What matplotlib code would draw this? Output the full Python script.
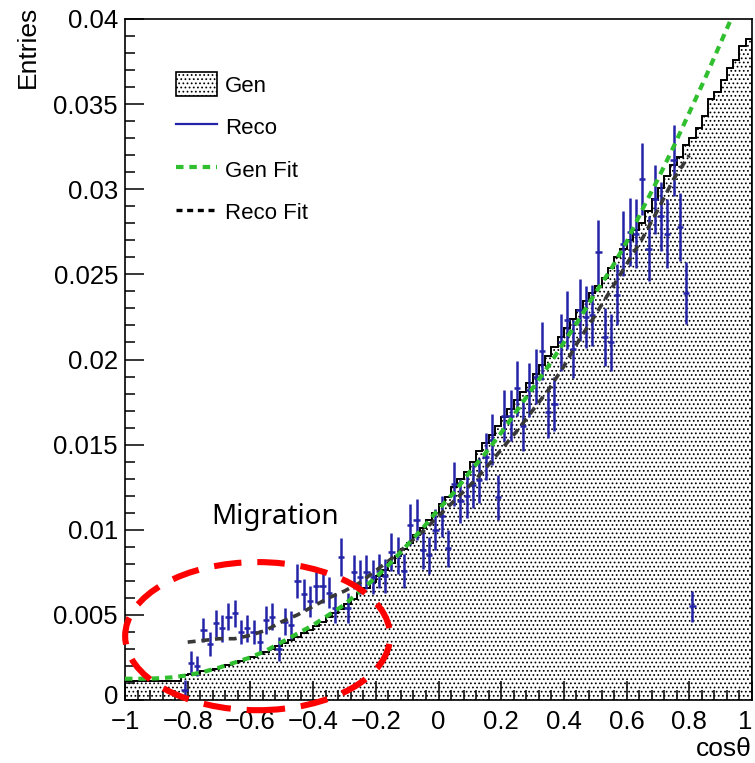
import numpy as np
import matplotlib
matplotlib.use("Agg")
import matplotlib.pyplot as plt
from matplotlib.patches import Ellipse, Patch
from matplotlib.lines import Line2D
from matplotlib.transforms import ScaledTranslation
from matplotlib.ticker import FixedLocator, FixedFormatter, AutoMinorLocator

plt.rcParams['font.family'] = ['Liberation Sans', 'DejaVu Sans']
plt.rcParams['hatch.linewidth'] = 0.75
plt.rcParams['hatch.color'] = 'black'

# Gen histogram, 100 bins on [-1, 1]
gen_edges = np.linspace(-1, 1, 101)
gen_vals = [
    0.00112, 0.00110, 0.00111, 0.00112, 0.00110, 0.00111, 0.00112, 0.00110, 0.00111,
    0.00145, 0.00152, 0.00160, 0.00168, 0.00176, 0.00185, 0.00195, 0.00205, 0.00216,
    0.00228, 0.00241, 0.00254, 0.00268, 0.00283, 0.00300, 0.00318, 0.00336, 0.00354,
    0.00372, 0.00392, 0.00413, 0.00436, 0.00460, 0.00485, 0.00510, 0.00537, 0.00565,
    0.00595, 0.00628, 0.00660, 0.00695, 0.00730, 0.00766, 0.00803, 0.00845, 0.00885,
    0.00925, 0.00968, 0.01010, 0.01055, 0.01100, 0.01150, 0.01195, 0.01250, 0.01300,
    0.01340, 0.01400, 0.01460, 0.01510, 0.01555, 0.01610, 0.01665, 0.01710, 0.01760,
    0.01810, 0.01860, 0.01915, 0.01965, 0.02020, 0.02075, 0.02130, 0.02185, 0.02235,
    0.02290, 0.02345, 0.02390, 0.02430, 0.02480, 0.02540, 0.02600, 0.02650, 0.02700,
    0.02760, 0.02800, 0.02870, 0.02940, 0.03010, 0.03080, 0.03140, 0.03190, 0.03260,
    0.03300, 0.03360, 0.03430, 0.03530, 0.03570, 0.03640, 0.03710, 0.03760, 0.03840,
    0.03880,
]

# Reco points (bins from -0.82 to 0.82)
reco_vals = [
    0.0006, 0.0022, 0.0020, 0.0041, 0.0033, 0.0045, 0.0042, 0.0049, 0.0051, 0.0040,
    0.0042, 0.0040, 0.0034, 0.0047, 0.0049, 0.0030, 0.0046, 0.0044, 0.0070, 0.0062,
    0.0058, 0.0067, 0.0067, 0.0063, 0.0054, 0.0084, 0.0054, 0.0075, 0.0072, 0.0075,
    0.0072, 0.0076, 0.0073, 0.0087, 0.0085, 0.0076, 0.0103, 0.0106, 0.0088, 0.0085,
    0.0100, 0.0108, 0.0089, 0.0127, 0.0117, 0.0120, 0.0126, 0.0129, 0.0143, 0.0153,
    0.0119, 0.0167, 0.0167, 0.0183, 0.0161, 0.0182, 0.0190, 0.0205, 0.0169, 0.0174,
    0.0210, 0.0223, 0.0206, 0.0229, 0.0225, 0.0226, 0.0263, 0.0213, 0.0210, 0.0238,
    0.0268, 0.0275, 0.0274, 0.0306, 0.0265, 0.0294, 0.0284, 0.0274, 0.0317, 0.0278,
    0.0239, 0.0055,
]
reco_errs = [
    0.0006, 0.0007, 0.0006, 0.0007, 0.0007, 0.0008, 0.0008, 0.0008, 0.0008, 0.0007,
    0.0008, 0.0007, 0.0007, 0.0008, 0.0008, 0.0007, 0.0008, 0.0008, 0.0010, 0.0009,
    0.0009, 0.0010, 0.0010, 0.0009, 0.0009, 0.0011, 0.0009, 0.0010, 0.0010, 0.0010,
    0.0010, 0.0010, 0.0010, 0.0011, 0.0011, 0.0010, 0.0012, 0.0012, 0.0011, 0.0011,
    0.0012, 0.0012, 0.0011, 0.0013, 0.0013, 0.0013, 0.0013, 0.0013, 0.0014, 0.0015,
    0.0013, 0.0015, 0.0015, 0.0016, 0.0015, 0.0016, 0.0016, 0.0017, 0.0015, 0.0016,
    0.0017, 0.0017, 0.0017, 0.0018, 0.0018, 0.0018, 0.0019, 0.0017, 0.0017, 0.0018,
    0.0019, 0.0020, 0.0020, 0.0021, 0.0019, 0.0020, 0.0020, 0.0020, 0.0021, 0.0020,
    0.0018, 0.0009,
]

# fit curves
gen_fit_x = [-1.0, -0.95, -0.9, -0.85, -0.8, -0.75, -0.7, -0.65, -0.6, -0.55, -0.5,
             -0.45, -0.4, -0.35, -0.3, -0.25, -0.2, -0.15, -0.1, -0.05, 0.0, 0.05,
             0.1, 0.15, 0.2, 0.25, 0.3, 0.35, 0.4, 0.45, 0.5, 0.55, 0.6, 0.65, 0.7,
             0.75, 0.8, 0.85, 0.9, 0.95]
gen_fit_y = [0.00125, 0.00125, 0.00127, 0.00133, 0.00145, 0.00165, 0.0019, 0.0022,
             0.0025, 0.0029, 0.0034, 0.0039, 0.0044, 0.0050, 0.0056, 0.0064, 0.0072,
             0.0081, 0.0091, 0.0101, 0.0112, 0.0122, 0.0134, 0.0145, 0.0157, 0.0170,
             0.0183, 0.0196, 0.0210, 0.0224, 0.0239, 0.0253, 0.0269, 0.0288, 0.0306,
             0.0325, 0.0345, 0.0365, 0.0386, 0.0407]
reco_fit_x = [-0.8, -0.75, -0.7, -0.65, -0.6, -0.55, -0.5, -0.45, -0.4, -0.35, -0.3,
              -0.25, -0.2, -0.15, -0.1, -0.05, 0.0, 0.05, 0.1, 0.15, 0.2, 0.25, 0.3,
              0.35, 0.4, 0.45, 0.5, 0.55, 0.6, 0.65, 0.7, 0.75, 0.8]
reco_fit_y = [0.0034, 0.0035, 0.0036, 0.0036, 0.0038, 0.0041, 0.0046, 0.0050, 0.0055,
              0.0060, 0.0064, 0.0069, 0.0076, 0.0083, 0.0091, 0.0099, 0.0108, 0.0117,
              0.0126, 0.0136, 0.0147, 0.0158, 0.0170, 0.0182, 0.0196, 0.0212, 0.0226,
              0.0241, 0.0256, 0.0271, 0.0288, 0.0306, 0.0320]

x_ticks = [-1, -0.8, -0.6, -0.4, -0.2, 0, 0.2, 0.4, 0.6, 0.8, 1]
x_labels = ['\u22121', '\u22120.8', '\u22120.6', '\u22120.4', '\u22120.2', '0',
            '0.2', '0.4', '0.6', '0.8', '1']
y_ticks = [0, 0.005, 0.01, 0.015, 0.02, 0.025, 0.03, 0.035, 0.04]
y_labels = ['0', '0.005', '0.01', '0.015', '0.02', '0.025', '0.03', '0.035', '0.04']

centers = (gen_edges[:-1] + gen_edges[1:]) / 2
reco_x = centers[9:9 + len(reco_vals)]

fig = plt.figure(figsize=(7.55, 7.63), dpi=100)
ax = fig.add_axes([125 / 755, 63 / 763, 627 / 755, 681 / 763])

ax.stairs(gen_vals, gen_edges, fill=True, facecolor='none', edgecolor='black',
          linewidth=0, hatch='....', zorder=1)
ax.stairs(gen_vals, gen_edges, fill=False, color='black', linewidth=1.4, zorder=2)

ax.errorbar(reco_x, reco_vals, yerr=reco_errs, xerr=0.01, fmt='none',
            ecolor='#2424a8', elinewidth=1.8, capsize=0, zorder=3)

ax.plot(reco_fit_x, reco_fit_y, color='#383838', linewidth=2.6,
        linestyle=(0, (2.2, 1.6)), zorder=4)
ax.plot(gen_fit_x, gen_fit_y, color='#2fbf2f', linewidth=3.0,
        linestyle=(0, (1.8, 1.4)), zorder=5)

ax.set_xlim(-1, 1)
ax.set_ylim(0, 0.04)
ax.xaxis.set_major_locator(FixedLocator(x_ticks))
ax.xaxis.set_major_formatter(FixedFormatter(x_labels))
ax.yaxis.set_major_locator(FixedLocator(y_ticks))
ax.yaxis.set_major_formatter(FixedFormatter(y_labels))
ax.xaxis.set_minor_locator(AutoMinorLocator(5))
ax.yaxis.set_minor_locator(AutoMinorLocator(5))
ax.tick_params(which='both', direction='in', top=False, right=False, width=1.1,
               labelsize=18.5, colors='black')
ax.tick_params(which='major', length=14)
ax.tick_params(which='minor', length=7)
ax.tick_params(axis='x', pad=7)
ax.tick_params(axis='y', pad=5)
for s in ax.spines.values():
    s.set_linewidth(1.2)
fig.canvas.draw()
# keep the last x label inside the figure, lift the y "0" off the x labels
ax.get_xticklabels()[-1].set_horizontalalignment('right')
zero_lbl = ax.get_yticklabels()[0]
zero_lbl.set_transform(zero_lbl.get_transform()
                       + ScaledTranslation(0, 4 / 72, fig.dpi_scale_trans))

ax.text(-0.155, 1.02, 'Entries', transform=ax.transAxes, rotation=90,
        ha='center', va='top', fontsize=19)
ax.text(1.0, -0.072, 'cos\u03b8', transform=ax.transAxes, ha='right', va='center',
        fontsize=19)

handles = [
    Patch(facecolor='white', edgecolor='black', hatch='....', linewidth=1.2),
    Line2D([], [], color='#2424a8', linewidth=1.6),
    Line2D([], [], color='#2fbf2f', linewidth=3.0, linestyle=(0, (1.8, 1.4))),
    Line2D([], [], color='black', linewidth=2.4, linestyle=(0, (1.8, 1.4))),
]
ax.legend(handles, ['Gen', 'Reco', 'Gen Fit', 'Reco Fit'], loc='upper left',
          bbox_to_anchor=(0.081, 0.922), frameon=False, fontsize=16,
          handlelength=1.85, handleheight=1.3, handletextpad=0.36,
          labelspacing=0.81, borderpad=0, borderaxespad=0)

ax.text(-0.52, 0.01075, 'Migration', family=['Noto Sans', 'DejaVu Sans'],
        fontsize=20, ha='center', va='center', color='black', zorder=6)
ax.add_patch(Ellipse((-0.577, 0.00375), 0.845, 0.0087, fill=False,
                     edgecolor='#ff0000', linewidth=4.4, linestyle=(0, (4.5, 2.6)),
                     clip_on=False, zorder=7))

fig.savefig('out.png', dpi=100)
